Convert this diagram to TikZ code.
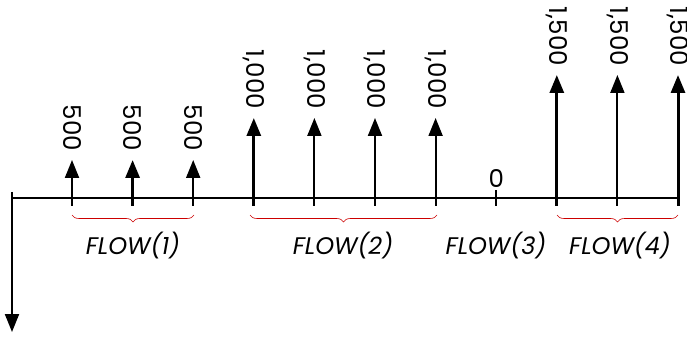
\documentclass[tikz,border=0pt]{standalone}
\usepackage{fontspec}
\setmainfont{Poppins}
\usepackage{tikz}
\usetikzlibrary{arrows.meta,decorations.pathreplacing}

\begin{document}
\begin{tikzpicture}[x=1pt, y=-1pt, >={Triangle[length=18pt,width=14pt]},
  amount/.style={rotate=-90, anchor=east, inner sep=0pt, font=\fontsize{24.5}{26}\selectfont},
  flowbrace/.style={decorate, decoration={brace, mirror, amplitude=7pt}, red!80!black, line width=0.6pt},
  flowlabel/.style={font=\fontsize{24}{26}\selectfont\itshape}]
  \useasboundingbox (0,0) rectangle (687,344);
  % time line
  \coordinate (start) at (12,198);
  \coordinate (end) at (679.5,198);
  \draw[line width=2.2pt] (start) -- (end);
  \coordinate (origin) at (12,192);
  \coordinate (outflow) at (12,332);
  \draw[->, line width=2pt] (origin) -- (outflow);
  % cash flows
  \foreach \i/\x/\tip/\amt/\lw in {1/72/160/500/2pt, 2/132.6/160/500/3pt, 3/193.2/160/500/2pt,
      4/253.8/118/{1,000}/3pt, 5/314.4/118/{1,000}/2pt, 6/375/118/{1,000}/2pt, 7/435.6/118/{1,000}/2pt,
      9/556.8/75/{1,500}/3pt, 10/617.4/75/{1,500}/2pt, 11/678/75/{1,500}/3pt} {
    \coordinate (foot\i) at (\x,206);
    \coordinate (tip\i) at (\x,\tip);
    \draw[->, line width=\lw] (foot\i) -- (tip\i);
    \node[amount] (amt\i) at ([yshift=9pt]tip\i) {\amt};
  }
  \coordinate (foot8) at (496.2,206);
  \coordinate (tip8) at (496.2,190);
  \draw[line width=2pt] (foot8) -- (tip8);
  \node[above, inner sep=2pt, font=\fontsize{24.5}{26}\selectfont] (amt8) at (tip8) {0};
  % groups
  \draw[flowbrace] (72,215) -- (194,215);
  \draw[flowbrace] (250,215) -- (437,215);
  \draw[flowbrace] (557,215) -- (678,215);
  \node[flowlabel] (flow1) at (133,246) {FLOW(1)};
  \node[flowlabel] (flow2) at (343,246) {FLOW(2)};
  \node[flowlabel] (flow3) at (496,246) {FLOW(3)};
  \node[flowlabel] (flow4) at (620,246) {FLOW(4)};
\end{tikzpicture}
\end{document}
